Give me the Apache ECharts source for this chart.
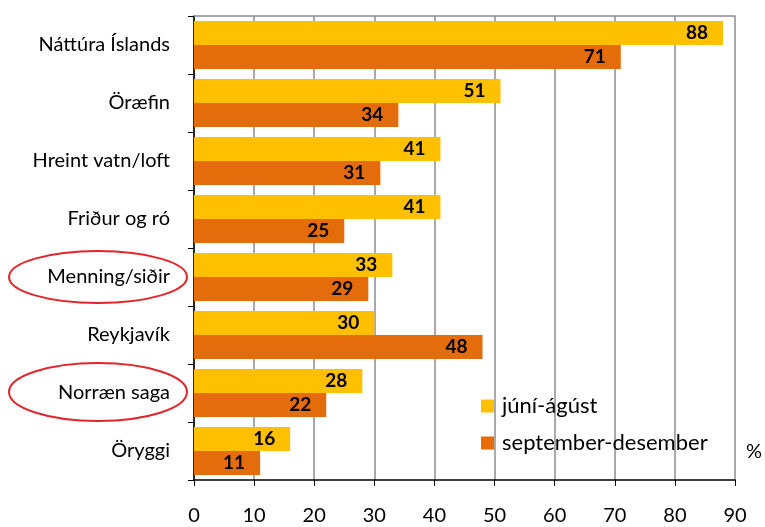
<!DOCTYPE html>
<html>
<head>
<meta charset="utf-8">
<script src="https://cdn.jsdelivr.net/npm/echarts@6/dist/echarts.min.js"></script>
<style>
  html, body { margin: 0; padding: 0; background: #fff; }
  #chart { width: 765px; height: 527px; }
</style>
</head>
<body>
<div id="chart"></div>
<script>
var categories = ['Náttúra Íslands', 'Öræfin', 'Hreint vatn/loft', 'Friður og ró',
                  'Menning/siðir', 'Reykjavík', 'Norræn saga', 'Öryggi'];
var summer = [88, 51, 41, 41, 33, 30, 28, 16];   // júní-ágúst
var autumn = [71, 34, 31, 25, 29, 48, 22, 11];   // september-desember
var seriesNames = ['júní-ágúst', 'september-desember'];

var font = 'Lato, "Open Sans", sans-serif';
var chart = echarts.init(document.getElementById('chart'));

var barLabel = {
    show: true,
    position: 'insideRight',
    distance: 15,
    color: '#000',
    fontWeight: 'bold',
    fontSize: 19,
    fontFamily: font
};

chart.setOption({
    animation: false,
    grid: {left: 194, right: 30, top: 16, bottom: 47},
    legend: {
        orient: 'vertical',
        left: 476,
        top: 390,
        itemWidth: 13,
        itemHeight: 13,
        itemGap: 15,
        icon: 'rect',
        textStyle: {fontSize: 22, fontFamily: font, color: '#000', padding: [0, 0, 0, 3]},
        data: seriesNames
    },
    xAxis: [{
        type: 'value', min: 0, max: 90, interval: 10,
        axisLine: {show: true, lineStyle: {color: '#000', width: 1.5}},
        axisTick: {show: true, length: 6, lineStyle: {color: '#000'}},
        axisLabel: {fontSize: 20, fontFamily: font, color: '#000', margin: 26},
        splitLine: {show: true, lineStyle: {color: '#8c8c8c', width: 1.5}}
    }, {
        type: 'value', position: 'top', min: 0, max: 90, interval: 10,
        axisLine: {show: true, lineStyle: {color: '#8c8c8c', width: 1.5}},
        axisTick: {show: false},
        axisLabel: {show: false},
        splitLine: {show: false}
    }],
    yAxis: {
        type: 'category',
        inverse: true,
        data: categories,
        axisLine: {show: true, lineStyle: {color: '#000', width: 1.5}},
        axisTick: {show: true, length: 6, lineStyle: {color: '#000'}},
        axisLabel: {fontSize: 20, fontFamily: font, color: '#000', margin: 24}
    },
    series: [{
        name: seriesNames[0],
        type: 'bar',
        data: summer,
        itemStyle: {color: '#FFC000'},
        barGap: '0%',
        barCategoryGap: '17%',
        label: barLabel
    }, {
        name: seriesNames[1],
        type: 'bar',
        data: autumn,
        itemStyle: {color: '#E46C0A'},
        barGap: '0%',
        barCategoryGap: '17%',
        label: barLabel
    }],
    graphic: [{
        type: 'ellipse',
        shape: {cx: 98, cy: 277, rx: 89, ry: 26},
        style: {fill: 'none', stroke: '#E3242B', lineWidth: 2}
    }, {
        type: 'ellipse',
        shape: {cx: 98, cy: 392, rx: 89, ry: 29},
        style: {fill: 'none', stroke: '#E3242B', lineWidth: 2}
    }, {
        type: 'text',
        left: 746,
        top: 442,
        style: {text: '%', fontSize: 20, fontFamily: font, fill: '#000'}
    }]
});
</script>
</body>
</html>
